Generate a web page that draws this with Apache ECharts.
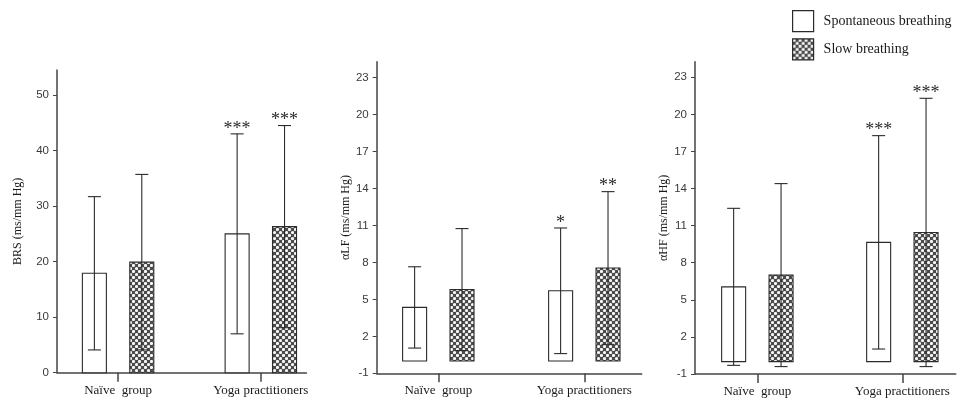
<!DOCTYPE html>
<html>
<head>
<meta charset="utf-8">
<script src="https://cdn.jsdelivr.net/npm/echarts@6/dist/echarts.min.js"></script>
<style>
  html, body { margin: 0; background: #fff; }
  #chart { width: 959px; height: 400px; }
</style>
</head>
<body>
<div id="chart"></div>
<script>
const GROUPS       = ['Naïve  group', 'Yoga practitioners']
const SERIES_NAMES = ['Spontaneous breathing', 'Slow breathing']

// BRS (ms/mm Hg)
const BRS_SPONT_MEAN = [17.9, 25.0]
const BRS_SPONT_SD   = [13.8, 18.0]
const BRS_SLOW_MEAN  = [19.9, 26.3]
const BRS_SLOW_SD    = [15.8, 18.2]
const BRS_SPONT_SIG  = ['', '***']
const BRS_SLOW_SIG   = ['', '***']

// αLF (ms/mm Hg)
const LF_SPONT_MEAN = [4.35, 5.7]
const LF_SPONT_SD   = [3.3, 5.1]
const LF_SLOW_MEAN  = [5.8, 7.55]
const LF_SLOW_SD    = [4.95, 6.2]
const LF_SPONT_SIG  = ['', '*']
const LF_SLOW_SIG   = ['', '**']

// αHF (ms/mm Hg)
const HF_SPONT_MEAN = [6.05, 9.65]
const HF_SPONT_SD   = [6.35, 8.63]
const HF_SLOW_MEAN  = [7.0, 10.45]
const HF_SLOW_SD    = [7.4, 10.85]
const HF_SPONT_SIG  = ['', '***']
const HF_SLOW_SIG   = ['', '***']

const BRS_TICKS   = [0, 10, 20, 30, 40, 50]
const ALPHA_TICKS = [-1, 2, 5, 8, 11, 14, 17, 20, 23]

const SERIF = '"Liberation Serif", "Times New Roman", serif'
const SANS  = '"Liberation Sans", Arial, sans-serif'
const INK   = '#2b2b2b'

// checkered dot fill for slow breathing
function makePattern() {
  const c = document.createElement('canvas')
  c.width = 6; c.height = 6
  const ctx = c.getContext('2d')
  ctx.fillStyle = '#4a4a4a'
  ctx.fillRect(0, 0, 6, 6)
  ctx.fillStyle = '#f6f6f6'
  ;[[1.5, 1.5], [4.5, 4.5]].forEach(([x, y]) => {
    ctx.beginPath(); ctx.arc(x, y, 1.6, 0, Math.PI * 2); ctx.fill()
  })
  return c
}
const PATTERN = { image: makePattern(), repeat: 'repeat' }
const FILLS = ['#ffffff', PATTERN]

const panels = [
  { title: 'BRS (ms/mm Hg)', ticks: BRS_TICKS, yMin: 0, yMax: 54.5, nameGap: 33,
    grid: { left: 57, top: 70, width: 249.5, height: 302.7 }, xMin: -0.428, xMax: 1.32,
    means: [BRS_SPONT_MEAN, BRS_SLOW_MEAN], sds: [BRS_SPONT_SD, BRS_SLOW_SD], sigs: [BRS_SPONT_SIG, BRS_SLOW_SIG] },
  { title: 'αLF (ms/mm Hg)', ticks: ALPHA_TICKS, yMin: -1, yMax: 24.3, nameGap: 23,
    grid: { left: 376.7, top: 61.7, width: 265, height: 311.6 }, xMin: -0.422, xMax: 1.393,
    means: [LF_SPONT_MEAN, LF_SLOW_MEAN], sds: [LF_SPONT_SD, LF_SLOW_SD], sigs: [LF_SPONT_SIG, LF_SLOW_SIG] },
  { title: 'αHF (ms/mm Hg)', ticks: ALPHA_TICKS, yMin: -1, yMax: 24.26, nameGap: 20,
    grid: { left: 695, top: 61.7, width: 260.7, height: 312.3 }, xMin: -0.43, xMax: 1.368,
    means: [HF_SPONT_MEAN, HF_SLOW_MEAN], sds: [HF_SPONT_SD, HF_SLOW_SD], sigs: [HF_SPONT_SIG, HF_SLOW_SIG] },
]

function barRenderer(sigs, side, fill) {
  return (params, api) => {
    const x = api.value(0), m = api.value(1), sd = api.value(2)
    const base = api.coord([x, 0])
    const top  = api.coord([x, m])
    const hi   = api.coord([x, m + sd])
    const lo   = api.coord([x, m - sd])
    const cx   = base[0] + side * 23.7
    const line = { stroke: INK, lineWidth: 1.1 }
    const children = [
      { type: 'rect', shape: { x: cx - 12, y: top[1], width: 24, height: base[1] - top[1] },
        style: { fill, stroke: INK, lineWidth: 1.1 } },
      { type: 'line', shape: { x1: cx, y1: hi[1], x2: cx, y2: lo[1] }, style: line },
      { type: 'line', shape: { x1: cx - 6.5, y1: hi[1], x2: cx + 6.5, y2: hi[1] }, style: line },
      { type: 'line', shape: { x1: cx - 6.5, y1: lo[1], x2: cx + 6.5, y2: lo[1] }, style: line },
    ]
    const sig = sigs[params.dataIndex]
    if (sig) {
      children.push({ type: 'text', x: cx, y: hi[1] - 5,
        style: { text: sig, align: 'center', verticalAlign: 'middle', fontSize: 18, fontFamily: SERIF, fill: INK } })
    }
    return { type: 'group', children }
  }
}

const grid = [], xAxis = [], yAxis = [], series = []
panels.forEach((p, k) => {
  grid.push(p.grid)
  xAxis.push({
    type: 'value', gridIndex: k, min: p.xMin, max: p.xMax,
    axisLine: { onZero: false, lineStyle: { color: '#444', width: 1.5 } },
    axisTick: { customValues: [0, 1], length: 9, lineStyle: { color: '#444', width: 1.5 } },
    axisLabel: { customValues: [0, 1], formatter: v => GROUPS[v], margin: 11,
      fontFamily: SERIF, fontSize: 13, color: '#1a1a1a' },
    splitLine: { show: false },
  })
  yAxis.push({
    type: 'value', gridIndex: k, min: p.yMin, max: p.yMax,
    name: p.title, nameLocation: 'middle', nameGap: p.nameGap,
    nameTextStyle: { fontFamily: SERIF, fontSize: 12, color: '#1a1a1a' },
    axisLine: { show: true, onZero: false, lineStyle: { color: '#444', width: 1.5 } },
    axisTick: { show: true, customValues: p.ticks, length: 4, lineStyle: { color: '#444' } },
    axisLabel: { customValues: p.ticks, margin: 8, fontFamily: SANS, fontSize: 11.5, color: '#3a3a3a' },
    splitLine: { show: false },
  })
  SERIES_NAMES.forEach((name, s) => {
    series.push({
      type: 'custom', name, xAxisIndex: k, yAxisIndex: k,
      itemStyle: { color: FILLS[s], borderColor: INK, borderWidth: 1 },
      data: p.means[s].map((m, i) => [i, m, p.sds[s][i]]),
      renderItem: barRenderer(p.sigs[s], s === 0 ? -1 : 1, FILLS[s]),
    })
  })
})

const chart = echarts.init(document.getElementById('chart'))
chart.setOption({
  backgroundColor: '#fff',
  animation: false,
  legend: {
    orient: 'vertical', left: 787, top: 5,
    itemWidth: 21, itemHeight: 21, itemGap: 6,
    icon: 'rect', selectedMode: false,
    textStyle: { fontFamily: SERIF, fontSize: 14, color: '#1a1a1a', padding: [0, 0, 0, 5] },
    data: [
      { name: SERIES_NAMES[0], itemStyle: { color: FILLS[0], borderColor: INK, borderWidth: 1.2 } },
      { name: SERIES_NAMES[1], itemStyle: { color: FILLS[1], borderColor: INK, borderWidth: 1.2 } },
    ],
  },
  grid, xAxis, yAxis, series,
})
</script>
</body>
</html>
